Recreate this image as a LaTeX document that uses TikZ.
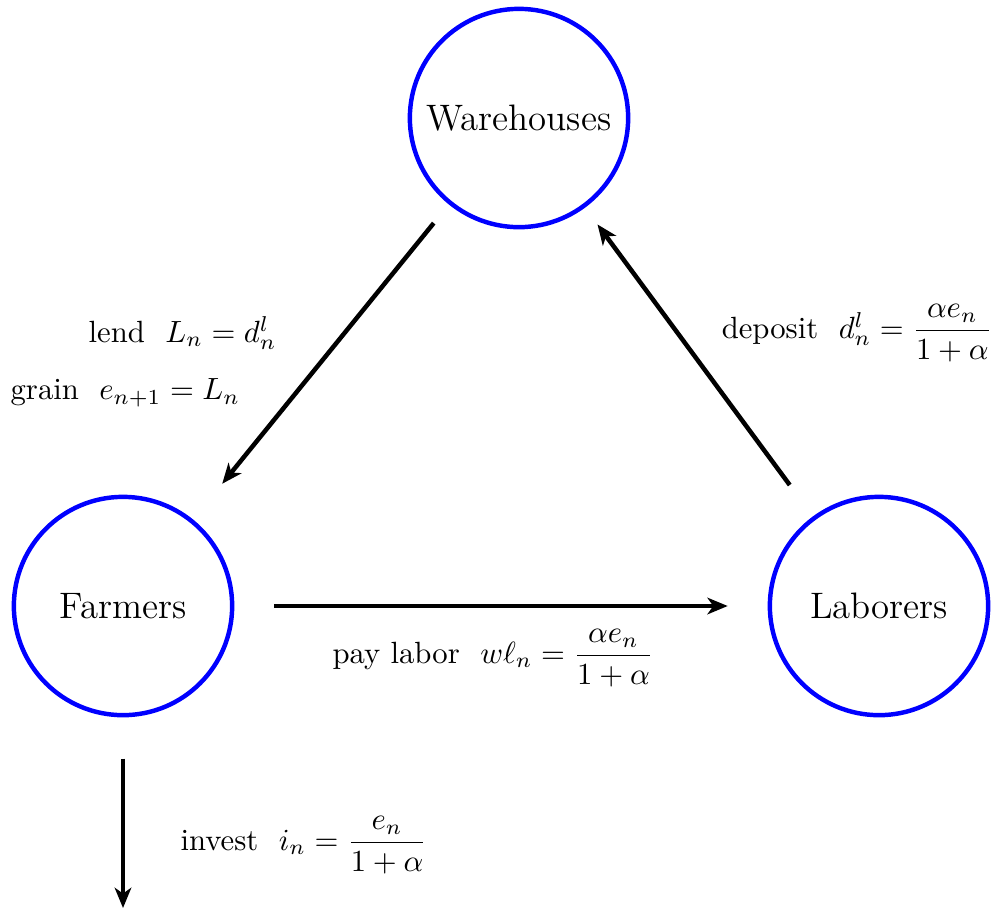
\documentclass[tikz,border=0pt]{standalone}
\usepackage{amsmath}
\usetikzlibrary{arrows.meta}
\begin{document}
\begin{tikzpicture}[x=0.3257pt,y=-0.3257pt,
  agent/.style={circle,draw=blue,line width=1.45pt,minimum size=71.1pt,inner sep=0pt,font=\large},
  flow/.style={line width=1.47pt,-{Stealth[length=6.6pt,width=5.4pt,inset=1.9pt]}},
  lbl/.style={inner sep=0pt}]
\useasboundingbox (0,0) rectangle (993,914);
\node[agent] (W) at (519,118) {Warehouses};
\node[agent] (F) at (123,606) {Farmers};
\node[agent] (L) at (879,606) {Laborers};
\coordinate (inv) at (123,908);
\draw[flow,shorten <=7.8pt,shorten >=15.0pt] (W) -- (F);
\draw[flow,shorten <=12.7pt,shorten >=6.8pt] (L) -- (W);
\draw[flow,shorten <=13.0pt,shorten >=13.0pt] (F) -- (L);
\draw[flow,shorten <=13.4pt] (F) -- (inv);
\node[lbl,anchor=west] (lend) at (88,333) {lend~~$L_n = d^l_n$};
\node[lbl,anchor=west] (grain) at (10,393) {grain~~$e_{n+1} = L_n$};
\node[lbl,anchor=east] (dep) at (993,333) {deposit~~$d^l_n = \dfrac{\alpha e_n}{1+\alpha}$};
\node[lbl,anchor=west] (pay) at (332,658) {pay labor~~$w\ell_n = \dfrac{\alpha e_n}{1+\alpha}$};
\node[lbl,anchor=west] (invl) at (180,845) {invest~~$i_n = \dfrac{e_n}{1+\alpha}$};
\end{tikzpicture}
\end{document}
